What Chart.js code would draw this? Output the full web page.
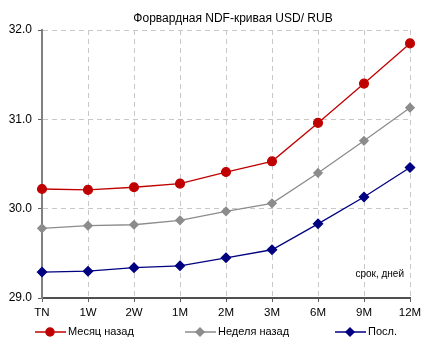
<!DOCTYPE html>
<html lang="ru">
<head>
  <meta charset="UTF-8" />
  <title>Форвардная NDF-кривая USD/ RUB</title>
  <script src="https://cdn.jsdelivr.net/npm/chart.js"></script>
  <style>
    body { margin: 0; padding: 0; background: #fff; }
    #wrap { width: 446px; height: 338px; }
  </style>
</head>
<body>
  <div id="wrap"><canvas id="ndf"></canvas></div>
  <script>
    // terms and curves
    const terms = ["TN", "1W", "2W", "1M", "2M", "3M", "6M", "9M", "12M"];
    const monthAgo = [30.22, 30.21, 30.24, 30.28, 30.41, 30.53, 30.96, 31.40, 31.85];
    const weekAgo  = [29.78, 29.81, 29.82, 29.87, 29.97, 30.06, 30.40, 30.76, 31.13];
    const latest   = [29.29, 29.30, 29.34, 29.36, 29.45, 29.54, 29.83, 30.13, 30.46];
    const seriesNames = ["Месяц назад", "Неделя назад", "Посл."];
    const chartTitle = "Форвардная NDF-кривая USD/ RUB";

    const FONT = "'Liberation Sans', Arial, sans-serif";
    Chart.defaults.font.family = FONT;
    Chart.defaults.color = "#000";

    // title, axis note and a line+marker legend, like the original
    const extras = {
      id: "extras",
      afterDraw(chart) {
        const ctx = chart.ctx;
        ctx.save();
        ctx.fillStyle = "#000";
        ctx.font = "12px " + FONT;
        ctx.textAlign = "center";
        ctx.textBaseline = "middle";
        ctx.fillText(chartTitle, 233, 19);

        chart.data.datasets.forEach((ds, i) => {
          const x0 = 35 + i * 150;
          const y = 332;
          ctx.strokeStyle = ds.borderColor;
          ctx.fillStyle = ds.borderColor;
          ctx.lineWidth = 1.5;
          ctx.beginPath();
          ctx.moveTo(x0, y);
          ctx.lineTo(x0 + 31, y);
          ctx.stroke();
          Chart.helpers.drawPoint(ctx, {
            pointStyle: ds.pointStyle,
            radius: 4,
            borderWidth: 1
          }, x0 + 15, y);
          ctx.fillStyle = "#000";
          ctx.font = "11px " + FONT;
          ctx.textAlign = "left";
          ctx.fillText(ds.label, x0 + 33, y);
        });

        const a = chart.chartArea;
        ctx.font = "10px " + FONT;
        ctx.textAlign = "right";
        ctx.fillText("срок, дней", a.right - 6, a.bottom - 24);
        ctx.restore();
      }
    };

    function makeSet(label, data, color, style, r) {
      return {
        label, data,
        borderColor: color,
        backgroundColor: color,
        pointBackgroundColor: color,
        pointBorderColor: color,
        borderWidth: 1.3,
        pointStyle: style,
        pointRadius: r,
        pointHoverRadius: r,
        tension: 0
      };
    }

    const gridOpts = {
      color: "#c8c8c8",
      tickColor: "#606060",
      tickLength: 4
    };

    new Chart(document.getElementById("ndf"), {
      type: "line",
      data: {
        labels: terms,
        datasets: [
          makeSet(seriesNames[0], monthAgo, "#c00000", "circle", 4.4),
          makeSet(seriesNames[1], weekAgo, "#8c8c8c", "rectRot", 4.2),
          makeSet(seriesNames[2], latest, "#000080", "rectRot", 4.6)
        ]
      },
      options: {
        responsive: true,
        maintainAspectRatio: false,
        animation: false,
        layout: { padding: { left: 0, right: 36, top: 30, bottom: 15 } },
        plugins: {
          legend: { display: false },
          tooltip: { enabled: false },
          title: { display: false }
        },
        scales: {
          x: {
            offset: false,
            afterFit(s) { s.height = 25; },
            border: { color: "#505050", width: 2, dash: [5, 4] },
            grid: gridOpts,
            ticks: { font: { size: 11.5 }, color: "#000", padding: 4, maxRotation: 0 }
          },
          y: {
            min: 29, max: 32,
            afterFit(s) { s.width = 42; },
            border: { color: "#808080", width: 2, dash: [5, 4] },
            grid: gridOpts,
            ticks: {
              stepSize: 1,
              font: { size: 12 },
              color: "#000",
              padding: 6,
              callback: v => v.toFixed(1)
            }
          }
        }
      },
      plugins: [extras]
    });
  </script>
</body>
</html>
